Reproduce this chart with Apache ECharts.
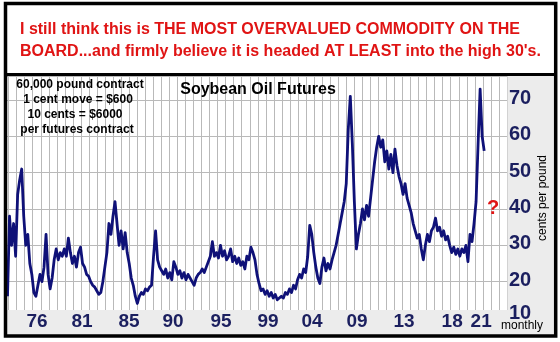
<!DOCTYPE html>
<html>
<head>
<meta charset="utf-8">
<script src="https://cdn.jsdelivr.net/npm/echarts@6/dist/echarts.min.js"></script>
<style>
  html, body { margin: 0; padding: 0; background: #fff; }
  #chart { width: 560px; height: 342px; }
</style>
</head>
<body>
<div id="chart"></div>
<script>
// Soybean oil futures, cents per pound, sampled every 0.2 year
const startYear = 1974.75;
const stepYears = 0.2;
const prices = [
  16, 38, 30, 36, 27, 44, 48, 51, 38, 30, 33, 25,
  22, 17, 16, 19, 22, 20, 24, 33, 22, 18, 21,
  26, 29, 26, 28, 27, 29, 27, 32, 28,
  25, 27, 24, 28, 29.5, 25, 24, 22, 21.5, 20, 19, 18.5, 17.5, 16.5, 17,
  20, 24, 28, 36, 33, 38, 42, 36, 30, 34, 29, 33.5, 28,
  25, 21, 19, 16, 14, 16, 17, 16.5, 18, 17.5, 18.5, 19,
  27, 34, 26, 24, 23, 22, 23.5, 21, 22.5, 20.5, 25.5, 24,
  22, 23, 21, 22.5, 20.5, 22, 21, 20, 19, 21, 22,
  22.5, 23.5, 22.5, 24, 25.5, 27, 31,
  27, 28, 26.5, 30, 27, 28.5, 26, 27, 29, 25.5,
  27, 25, 26.5, 24.5, 25.5, 23.5, 27, 26, 29.5, 28, 26,
  22, 19.5, 17.5, 18, 16.5, 17.5, 16, 17, 15.5, 16.5, 15, 15.5, 16, 15.5, 17, 16.5, 18,
  17, 19, 18, 20.5, 22, 21, 23.5, 22.5,
  27, 35.5, 33, 28, 24, 21, 19.5,
  24, 26.5, 23, 25, 23.5, 26,
  28, 30, 33, 36, 39, 42, 47,
  62, 71, 58, 42, 29, 33,
  36, 40, 37, 41, 38, 43, 48, 53, 57, 60, 57, 59,
  53, 56, 51, 55, 50, 56.5, 52, 49,
  47, 44, 47, 43, 41, 39, 36,
  34, 32, 33, 29, 26, 30, 33, 31, 34, 35, 37.5,
  34, 35, 32.5, 34, 31.5, 32.5, 30,
  28, 29.5, 27.5, 29, 27, 29, 28, 30, 25.5, 33,
  31, 36, 42, 58, 73, 60, 56
];

// Year axis labels and where they sit on the time scale
const tickYears = [1977.66, 1982.10, 1986.73, 1991.07, 1995.80, 2000.44, 2004.78, 2009.22, 2013.85, 2018.59, 2021.45];
const tickLabels = ['76', '81', '85', '90', '95', '99', '04', '09', '13', '18', '21'];

// Price axis
const priceMin = 10;
const priceMax = 76.6;
const priceStep = 10;

const noteLines = ['60,000 pound contract', '1 cent move = $600', '10 cents = $6000', 'per futures contract'];
const headline = [
  'I still think this is THE MOST OVERVALUED COMMODITY ON THE',
  "BOARD...and firmly believe it is headed AT LEAST into the high 30's."
];

const FONT = "'Liberation Sans', Arial, Helvetica, sans-serif";
const NAVY = '#1b1f5f';
const GRID_GRAY = '#b9b9b9';
const BAND = '#ececec';

const series = prices.map((v, i) => [startYear + i * stepYears, v]);

const chart = echarts.init(document.getElementById('chart'), null, { renderer: 'canvas' });

const noteX = [80, 78, 75, 77];
const noteY = [85, 100, 115, 130];

chart.setOption({
  animation: false,
  backgroundColor: '#fff',
  grid: [
    { left: 7, right: 53, top: 76, bottom: 24, containLabel: false },
    { left: 8.6, right: 53, top: 76, bottom: 32, containLabel: false }
  ],
  xAxis: [
    {
      type: 'value', gridIndex: 0, min: 1974.7, max: 2024.0, z: 5,
      axisLine: { show: false }, axisTick: { show: false }, splitLine: { show: false },
      axisLabel: {
        customValues: tickYears,
        margin: 4,
        verticalAlign: 'middle',
        color: NAVY, fontFamily: FONT, fontWeight: 'bold', fontSize: 19,
        formatter: (v) => {
          let best = 0;
          tickYears.forEach((t, i) => { if (Math.abs(t - v) < Math.abs(tickYears[best] - v)) best = i; });
          return tickLabels[best];
        }
      }
    },
    {
      type: 'value', gridIndex: 1, min: 0, max: 62, interval: 1, z: 0,
      axisLine: { show: false }, axisTick: { show: false }, axisLabel: { show: false },
      splitLine: { show: true, lineStyle: { color: GRID_GRAY, width: 1 } }
    }
  ],
  yAxis: [
    {
      type: 'value', gridIndex: 0, position: 'right', min: priceMin, max: priceMax, interval: priceStep, z: 5,
      axisLine: { show: false }, axisTick: { show: false }, splitLine: { show: false },
      axisLabel: {
        showMaxLabel: false,
        margin: 2,
        align: 'left',
        padding: [0, 0, 3, 0],
        color: NAVY, fontFamily: FONT, fontWeight: 'bold', fontSize: 20,
        formatter: (v) => v === priceMin ? '{lo|' + v + '}' : String(v),
        rich: {
          lo: { padding: [0, 0, 7, 0], color: NAVY, fontFamily: FONT, fontWeight: 'bold', fontSize: 20 }
        }
      }
    },
    {
      type: 'value', gridIndex: 0, position: 'left', min: priceMin, max: priceMax, interval: priceStep, z: 0,
      axisLine: { show: false }, axisTick: { show: false }, axisLabel: { show: false },
      splitLine: { show: true, lineStyle: { color: GRID_GRAY, width: 1 } }
    },
    {
      type: 'value', gridIndex: 1, min: 0, max: 1, show: false
    }
  ],
  series: [
    {
      name: 'Soybean Oil Futures',
      type: 'line',
      xAxisIndex: 0,
      yAxisIndex: 0,
      data: series,
      showSymbol: false,
      symbol: 'none',
      z: 3,
      lineStyle: { color: '#0f1178', width: 2.8, join: 'round' }
    }
  ],
  graphic: [
    { type: 'rect', z: 1, silent: true, shape: { x: 7, y: 310, width: 547, height: 25 }, style: { fill: BAND } },
    { type: 'rect', z: 1, silent: true, shape: { x: 507.5, y: 76, width: 47, height: 259 }, style: { fill: BAND } },
    { type: 'rect', z: 20, silent: true, shape: { x: 5.5, y: 3.5, width: 550.2, height: 332.5 }, style: { fill: null, stroke: '#000', lineWidth: 3.5 } },
    { type: 'line', z: 20, silent: true, shape: { x1: 5.5, y1: 74.5, x2: 555.7, y2: 74.5 }, style: { stroke: '#000', lineWidth: 3 } },
    { type: 'text', z: 20, silent: true, x: 20, y: 30, style: { text: headline[0], fill: '#e01414', font: "bold 16px " + FONT, textAlign: 'left', textVerticalAlign: 'middle' } },
    { type: 'text', z: 20, silent: true, x: 20, y: 52, style: { text: headline[1], fill: '#e01414', font: "bold 16px " + FONT, textAlign: 'left', textVerticalAlign: 'middle' } },
    { type: 'text', z: 20, silent: true, x: 258, y: 89.5, style: { text: 'Soybean Oil Futures', fill: '#000', font: "bold 16px " + FONT, textAlign: 'center', textVerticalAlign: 'middle' } },
    ...noteLines.map((t, i) => ({
      type: 'text', z: 20, silent: true, x: noteX[i], y: noteY[i],
      style: { text: t, fill: '#000', font: "bold 12px " + FONT, textAlign: 'center', textVerticalAlign: 'middle' }
    })),
    { type: 'text', z: 20, silent: true, x: 543, y: 198, rotation: Math.PI / 2, style: { text: 'cents per pound', fill: '#000', font: "12px " + FONT, textAlign: 'center', textVerticalAlign: 'middle' } },
    { type: 'text', z: 20, silent: true, x: 522, y: 326, style: { text: 'monthly', fill: '#000', font: "12px " + FONT, textAlign: 'center', textVerticalAlign: 'middle' } },
    { type: 'text', z: 20, silent: true, x: 493, y: 208, style: { text: '?', fill: '#e01414', font: "bold 20px " + FONT, textAlign: 'center', textVerticalAlign: 'middle' } }
  ]
});
</script>
</body>
</html>
